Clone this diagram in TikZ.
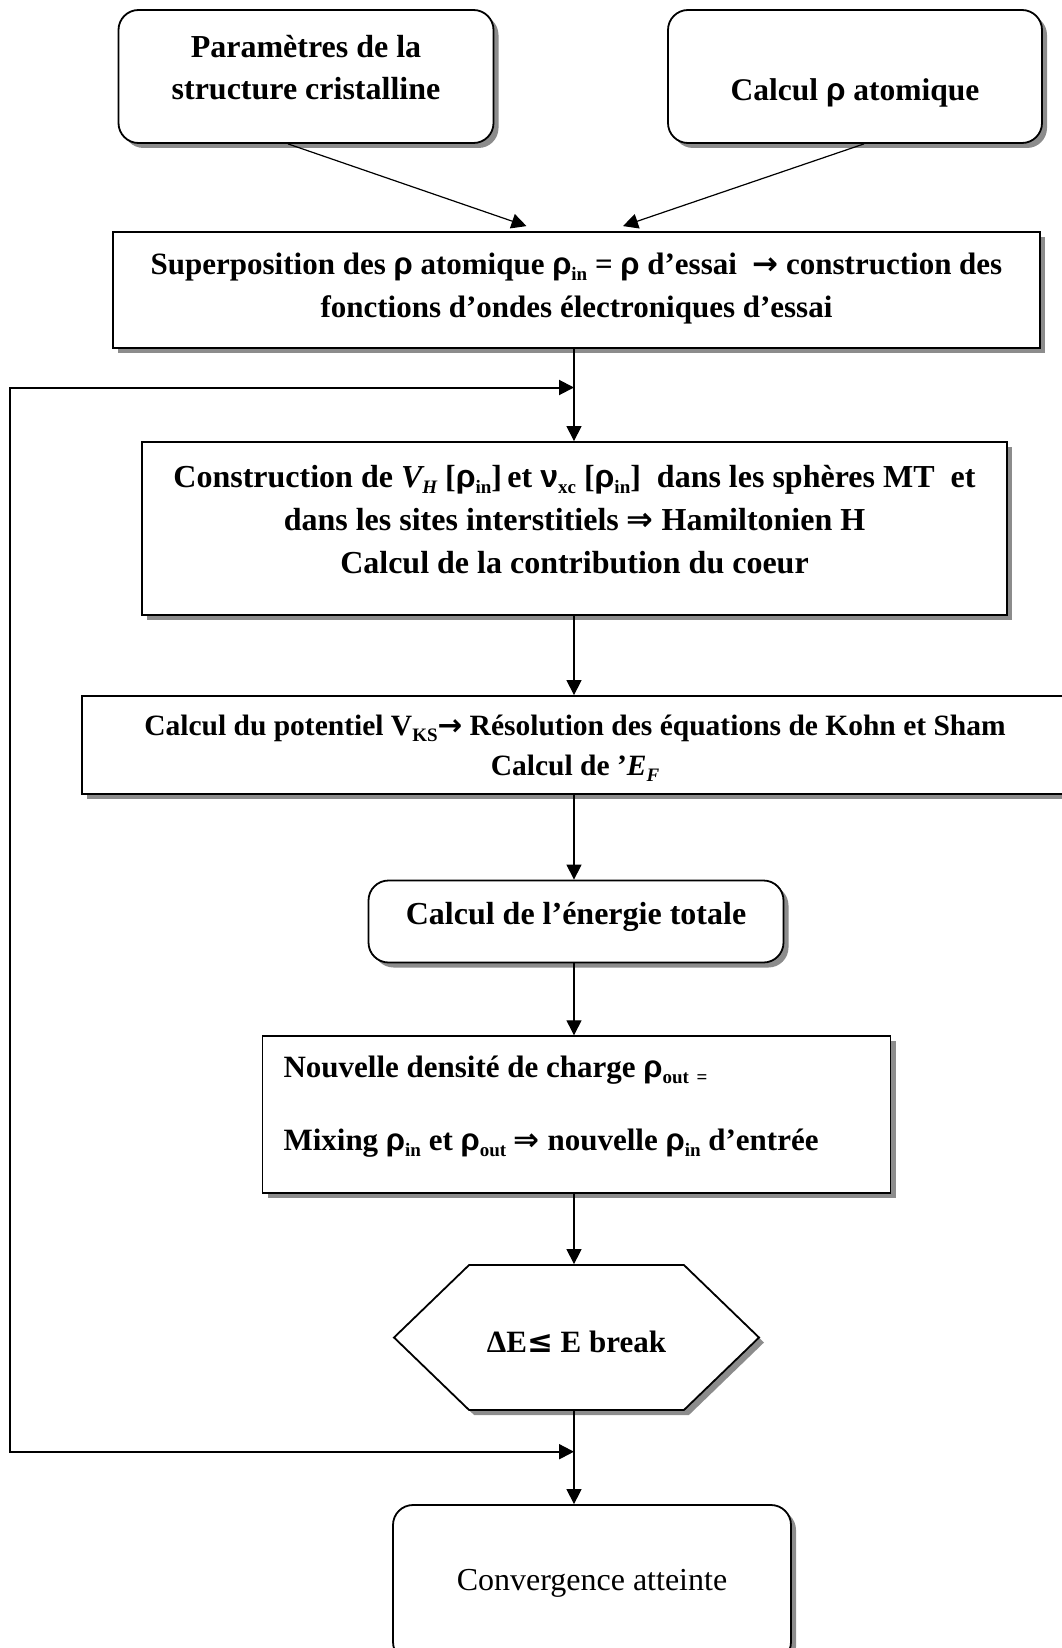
\documentclass[tikz,border=0pt]{standalone}
\usepackage{fontspec}
\setmainfont{Liberation Serif}
\newfontfamily\grkfont{Liberation Sans}
\newfontfamily\symbfont{DejaVu Sans}
\usetikzlibrary{arrows.meta,shapes.symbols,shadows}

\newcommand{\low}[1]{\raisebox{-0.2em}{\fontsize{19}{19}\selectfont #1}}
\newcommand{\rhosym}{{\grkfont ρ}}
\newcommand{\rhoin}{\rhosym\low{in}}
\newcommand{\rhoout}{\rhosym\low{out}}
\newcommand{\symb}[1]{{\symbfont #1}}

\begin{document}
\begin{tikzpicture}[x=1pt,y=-1pt,
  every node/.style={font=\bfseries\fontsize{31}{43}\selectfont},
  box/.style={draw,fill=white,line width=1.8pt,align=center,inner sep=0pt,
    drop shadow={shadow xshift=5pt,shadow yshift=-5pt,fill=black!45,opacity=1}},
  roundbox/.style={box,rounded corners=20pt},
  hexa/.style={box,signal,signal to=west and east,signal pointer angle=88},
  flow/.style={line width=1.2pt,-{Triangle[length=15pt,width=15pt]}},
  back/.style={line width=2pt,{Triangle[length=15pt,width=15pt]}-{Triangle[length=15pt,width=15pt]}}
]
  \useasboundingbox (0,0) rectangle (1061,1648);

  % les deux entrees
  \node[roundbox,minimum width=375pt,minimum height=133pt,text depth=19pt,font=\bfseries\fontsize{32}{42}\selectfont] (param) at (306,76.5)
    {Paramètres de la\\structure cristalline};
  \node[roundbox,minimum width=374pt,minimum height=133pt,text height=55pt,font=\bfseries\fontsize{31.5}{42}\selectfont] (rhoat) at (855,76.5)
    {Calcul \rhosym{} atomique};

  % cycle auto-coherent
  \node[box,minimum width=927pt,minimum height=116pt,text depth=9pt] (sup) at (576.5,290)
    {Superposition des \rhosym{} atomique \rhoin{} = \rhosym{} d’essai \ \symb{→} construction des\\
     fonctions d’ondes électroniques d’essai};
  \node[box,minimum width=865pt,minimum height=173pt,text depth=19pt,font=\bfseries\fontsize{32}{43}\selectfont] (constr) at (574.5,528.5)
    {Construction de \textit{V\low{H}} [\rhoin]\,et {\grkfont ν}\low{xc} [\rhoin] \ dans les sphères MT \ et\\
     dans les sites interstitiels \symb{⇒} Hamiltonien H\\
     Calcul de la contribution du coeur};
  \node[box,minimum width=986pt,minimum height=98pt,text depth=0pt,font=\bfseries\fontsize{29.5}{40}\selectfont] (pot) at (575,745)
    {Calcul du potentiel V\low{KS}\symb{→} Résolution des équations de Kohn et Sham\\
     Calcul de ’\textit{E\low{F}}};
  \node[roundbox,minimum width=415pt,minimum height=82pt,text depth=16pt,font=\bfseries\fontsize{32}{43}\selectfont] (etot) at (576,921.5)
    {Calcul de l’énergie totale};
  \node[box,align=flush left,text width=586pt,inner xsep=21pt,minimum height=157pt,text height=22pt,text depth=97pt] (mix) at (576.5,1114.7)
    {Nouvelle densité de charge \rhoout{} \low{=}\\[30pt]
     Mixing \rhoin{} et \rhoout{} \symb{⇒} nouvelle \rhoin{} d’entrée};
  \node[hexa,minimum width=365pt,minimum height=145pt,text height=30pt] (test) at (576.5,1337.5)
    {ΔE\symb{≤} E break};
  \node[roundbox,minimum width=398pt,minimum height=157pt,font=\fontsize{32}{40}\selectfont] (conv) at (592,1583.5)
    {Convergence atteinte};

  \coordinate (axis) at (574,0);
  \coordinate (topjoin) at (574,387.5);
  \coordinate (botjoin) at (574,1451.7);
  \coordinate (loopx) at (9.5,0);

  \draw[flow] ([xshift=-18pt]param.south) -- ([xshift=-50pt,yshift=5pt]sup.north);
  \draw[flow] ([xshift=9pt]rhoat.south) -- ([xshift=46.5pt,yshift=5pt]sup.north);
  \draw[flow] (sup.south -| axis) -- (constr.north -| axis);
  \draw[flow] (constr.south -| axis) -- (pot.north -| axis);
  \draw[flow] (pot.south -| axis) -- (etot.north -| axis);
  \draw[flow] (etot.south -| axis) -- (mix.north -| axis);
  \draw[flow] (mix.south -| axis) -- (test.north -| axis);
  \draw[flow] (test.south -| axis) -- (conv.north -| axis);
  \draw[back] (topjoin) -- (topjoin -| loopx) -- (botjoin -| loopx) -- (botjoin);
\end{tikzpicture}
\end{document}
